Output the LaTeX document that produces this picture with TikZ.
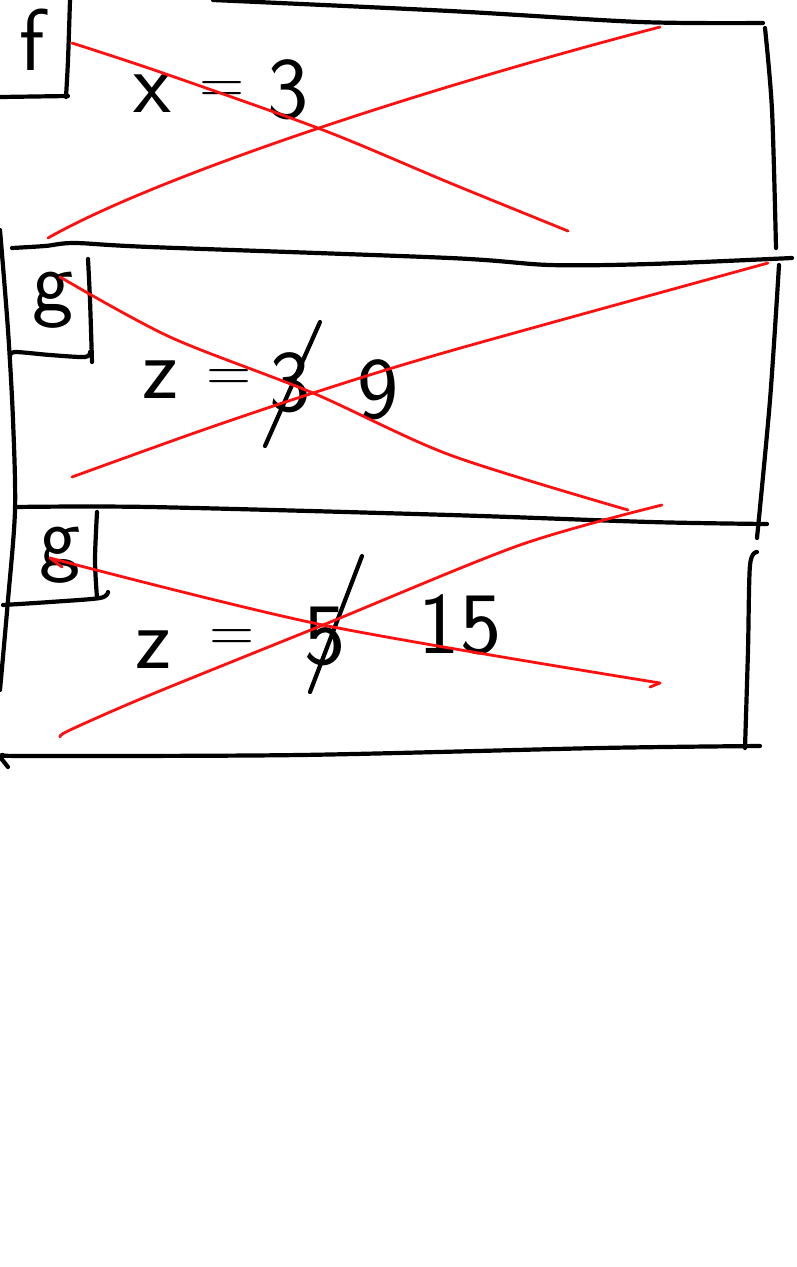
\documentclass[tikz,border=0pt]{standalone}
\usepackage{xcolor}
\definecolor{ink}{HTML}{000000}
\definecolor{strike}{HTML}{FF1010}
\usepackage{tikz}
\usetikzlibrary{positioning}

\tikzset{
  pen/.style={draw=ink,line width=4.2bp},
  redpen/.style={draw=strike,line width=2.8bp},
  glyph/.style={font=\sffamily\fontsize{88}{88}\selectfont,inner sep=0pt},
  eqglyph/.style={font=\sffamily\fontsize{62}{62}\selectfont,inner sep=0pt}
}

\begin{document}
\begin{tikzpicture}[x=1bp,y=-1bp,line cap=round,line join=round]
\useasboundingbox (0,0) rectangle (797,1267);
% frame f
\draw[pen] plot[smooth] coordinates {(213,0) (450,11) (640,22) (763,23)};
\draw[pen] plot[smooth] coordinates {(765,28) (772,110) (776,248)};
\draw[pen] plot[smooth] coordinates {(70,0) (68,60) (66,97)};
\draw[pen] (0,97) -- (68,96);
\node[glyph] (F) at (32,40) {f};
\node[glyph] (xvar) at (152,94) {x};
\node[eqglyph] (xeq) at (222,92) {=};
\node[glyph] (xval) at (288,90) {3};
% frame g (first)
\draw[pen] plot[smooth] coordinates {(12,248) (45,246) (75,243) (150,247) (450,258) (550,265) (650,264) (792,258)};
\draw[pen] plot[smooth] coordinates {(0,230) (8,330) (13,420) (15,510) (8,600) (0,690)};
\draw[pen] plot[smooth] coordinates {(779,265) (770,400) (757,538)};
\draw[pen] plot[smooth] coordinates {(88,259) (90,300) (92,362)};
\draw[pen] plot[smooth] coordinates {(10,356) (15,352) (50,355) (85,357) (90,352)};
\node[glyph] (G) at (53,300) {g};
\node[glyph] (zvar) at (160,380) {z};
\node[eqglyph] (zeq) at (229,380) {=};
\node[glyph] (zold) at (290,383) {3};
\draw[pen] (265,446) -- (320,322);
\node[glyph] (znew) at (378,390) {9};
% frame g (second)
\draw[pen] plot[smooth] coordinates {(15,507) (150,507) (450,515) (650,522) (767,524)};
\draw[pen] plot[smooth] coordinates {(97,512) (95,560) (97,598)};
\draw[pen] plot[smooth] coordinates {(3,605) (50,602) (100,598) (108,592)};
\draw[pen] plot[smooth] coordinates {(757,552) (750,565) (748,650) (745,748)};
\draw[pen] plot[smooth] coordinates {(3,755) (30,756) (300,755) (600,748) (760,746)};
\draw[pen] (0,757) -- (8,767);
\node[glyph] (G2) at (60,555) {g};
\node[glyph] (wvar) at (153,650) {z};
\node[eqglyph] (weq) at (232,640) {=};
\node[glyph] (wold) at (325,636) {5};
\draw[pen] (310,692) -- (362,556);
\node[glyph] (wnew) at (460,625) {15};
% red crosses
\draw[redpen] plot[smooth] coordinates {(72,43) (160,72) (323,130) (450,183) (568,231)};
\draw[redpen] (48,238) .. controls (150,180) and (400,95) .. (660,27);
\draw[redpen] plot[smooth] coordinates {(60,277) (170,337) (313,393) (450,455) (628,510)};
\draw[redpen] plot[smooth] coordinates {(72,477) (200,431) (313,393) (450,351) (768,263)};
\draw[redpen] plot[smooth] coordinates {(50,558) (323,625) (660,683)};
\draw[redpen] (50,558) -- (62,567);
\draw[redpen] (660,683) -- (650,687);
\draw[redpen] plot[smooth] coordinates {(60,737) (70,730) (150,695) (323,625) (520,545) (662,505)};
\end{tikzpicture}
\end{document}
